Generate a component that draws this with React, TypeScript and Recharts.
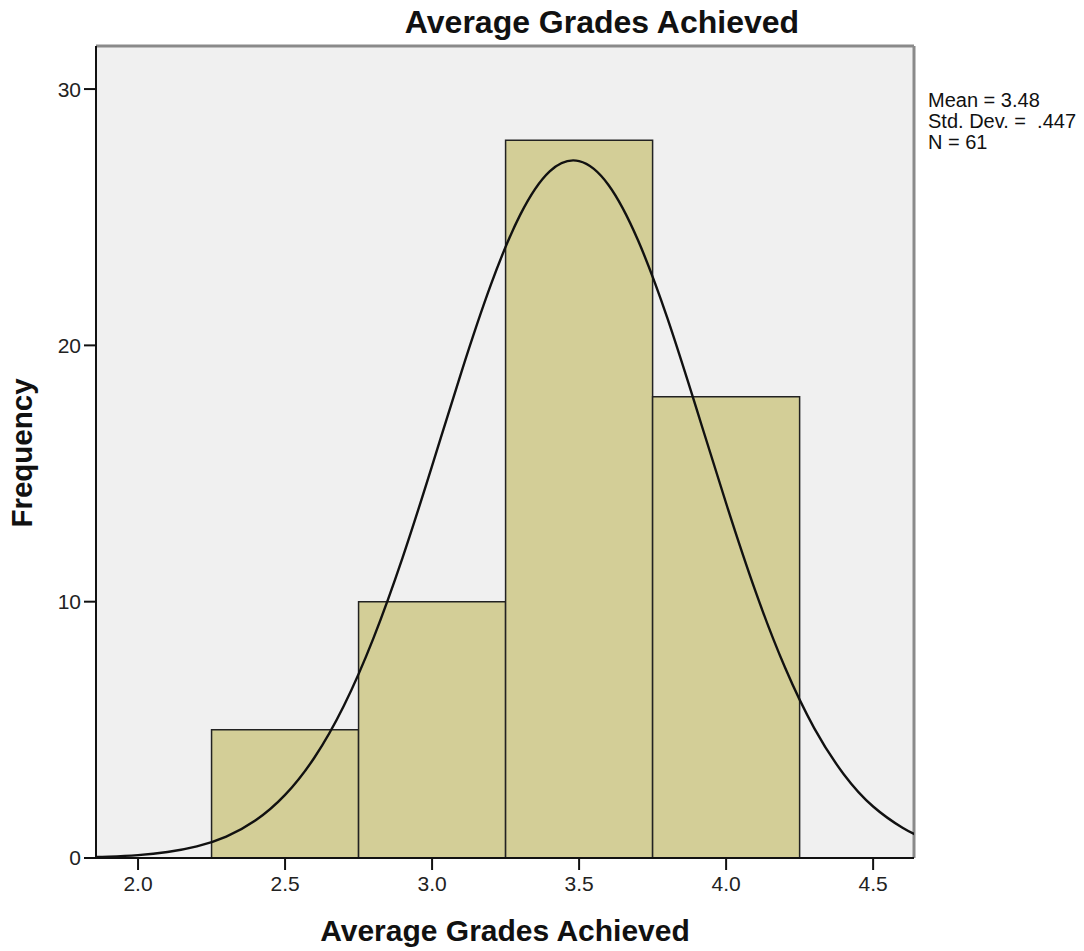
import React from "react";
import {
  ComposedChart,
  Line,
  XAxis,
  YAxis,
  ReferenceArea,
  ReferenceLine,
  CartesianGrid,
} from "recharts";

const binStarts = [2.25, 2.75, 3.25, 3.75];
const binEnds = [2.75, 3.25, 3.75, 4.25];
const binCounts = [5, 10, 28, 18];

const curveX = [
  1.85, 1.9, 2.0, 2.1, 2.2, 2.3, 2.4, 2.5, 2.6, 2.7, 2.8, 2.9, 3.0, 3.1, 3.2,
  3.3, 3.4, 3.5, 3.6, 3.7, 3.8, 3.9, 4.0, 4.1, 4.2, 4.3, 4.4, 4.5, 4.6, 4.65,
];
const curveY = [
  0.035, 0.053, 0.113, 0.232, 0.451, 0.835, 1.47, 2.46, 3.92, 5.94, 8.56,
  11.73, 15.3, 18.97, 22.37, 25.1, 26.79, 27.19, 26.26, 24.11, 21.07, 17.5,
  13.84, 10.4, 7.44, 5.06, 3.27, 2.01, 1.18, 0.885,
];

const xTicks = [2.0, 2.5, 3.0, 3.5, 4.0, 4.5];
const yTicks = [0, 10, 20, 30];
const statsLines = ["Mean = 3.48", "Std. Dev. =  .447", "N = 61"];

const titleText = "Average Grades Achieved";
const xLabel = "Average Grades Achieved";
const yLabel = "Frequency";

const X_MIN = 1.857;
const X_MAX = 4.639;
const Y_MAX = 31.68;

const curveData = curveX.map((x, i) => ({ x, y: curveY[i] }));

const FONT = "'Liberation Sans', Arial, sans-serif";

export default function App() {
  return (
    <div
      style={{
        position: "absolute",
        left: 0,
        top: 0,
        width: 1084,
        height: 951,
        background: "#fff",
        fontFamily: FONT,
      }}
    >
      <ComposedChart
        width={1084}
        height={951}
        margin={{ top: 46, right: 170, bottom: 0, left: 0 }}
        style={{ position: "absolute", left: 0, top: 0 }}
      >
        <CartesianGrid
          fill="#F0F0F0"
          horizontal={false}
          vertical={false}
          stroke="none"
        />
        <XAxis
          type="number"
          dataKey="x"
          domain={[X_MIN, X_MAX]}
          allowDataOverflow
          ticks={xTicks}
          tickFormatter={(v: number) => v.toFixed(1)}
          height={93}
          tickSize={12}
          tickMargin={6}
          stroke="#111"
          strokeWidth={2}
          tick={{ fill: "#222", fontSize: 21, fontFamily: FONT }}
          tickLine={{ stroke: "#111", strokeWidth: 2 }}
        />
        <YAxis
          type="number"
          domain={[0, Y_MAX]}
          allowDataOverflow
          ticks={yTicks}
          width={96}
          tickSize={12}
          tickMargin={3}
          stroke="#111"
          strokeWidth={2}
          tick={{ fill: "#222", fontSize: 21, fontFamily: FONT }}
          tickLine={{ stroke: "#111", strokeWidth: 2 }}
        />
        {binStarts.map((s, i) => (
          <ReferenceArea
            key={i}
            x1={s}
            x2={binEnds[i]}
            y1={0}
            y2={binCounts[i]}
            fill="#D3CE97"
            fillOpacity={1}
            stroke="#222"
            strokeWidth={1.5}
            ifOverflow="hidden"
          />
        ))}
        <ReferenceLine y={Y_MAX} stroke="#8a8a8a" strokeWidth={3} />
        <ReferenceLine x={X_MAX} stroke="#8a8a8a" strokeWidth={3} />
        <Line
          data={curveData}
          dataKey="y"
          type="natural"
          dot={false}
          activeDot={false}
          stroke="#111"
          strokeWidth={2.4}
          isAnimationActive={false}
        />
      </ComposedChart>
      <div
        style={{
          position: "absolute",
          left: 96,
          width: 1014,
          top: 3,
          textAlign: "center",
          fontWeight: "bold",
          fontSize: 32,
          lineHeight: "38px",
          color: "#111",
          whiteSpace: "nowrap",
          transform: "translateX(-1px)",
        }}
      >
        {titleText}
      </div>
      <div
        style={{
          position: "absolute",
          left: 96,
          width: 818,
          top: 913,
          textAlign: "center",
          fontWeight: "bold",
          fontSize: 30,
          lineHeight: "36px",
          color: "#111",
          whiteSpace: "nowrap",
        }}
      >
        {xLabel}
      </div>
      <div
        style={{
          position: "absolute",
          left: 22,
          top: 453,
          fontWeight: "bold",
          fontSize: 29.5,
          lineHeight: "36px",
          color: "#111",
          whiteSpace: "nowrap",
          transform: "translate(-50%, -50%) rotate(-90deg)",
        }}
      >
        {yLabel}
      </div>
      <div
        style={{
          position: "absolute",
          left: 928,
          top: 90,
          fontSize: 20,
          lineHeight: "21px",
          color: "#111",
          whiteSpace: "pre",
        }}
      >
        {statsLines.map((l, i) => (
          <div key={i}>{l}</div>
        ))}
      </div>
    </div>
  );
}
